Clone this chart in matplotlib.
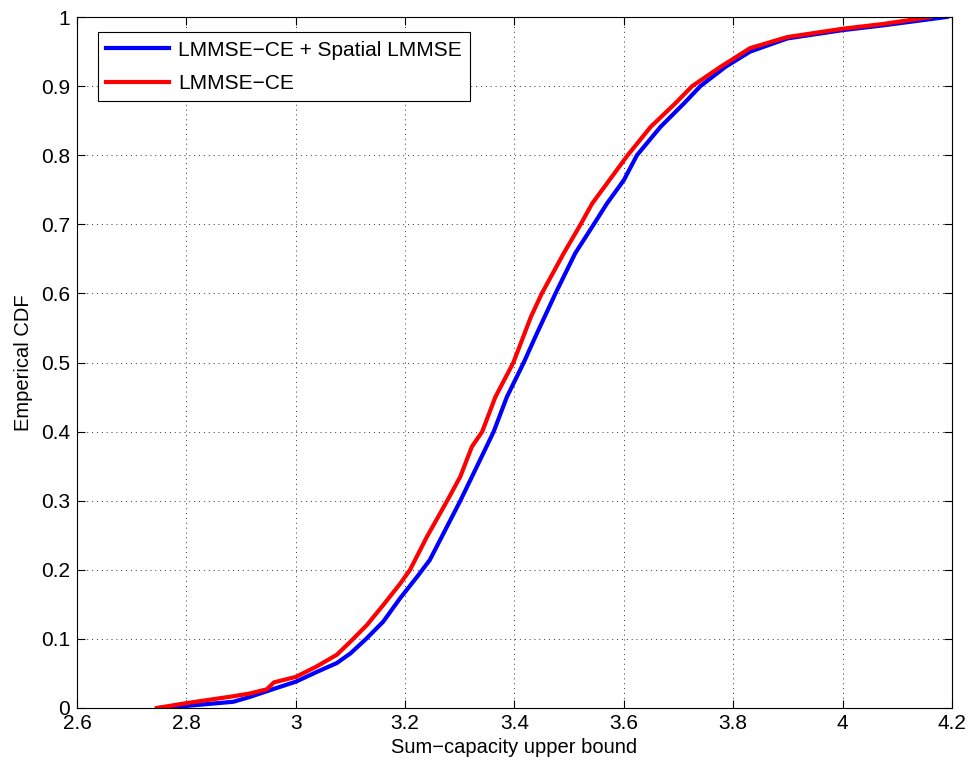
import matplotlib
matplotlib.use("Agg")
import matplotlib.pyplot as plt

plt.rcParams['font.family'] = ['Liberation Sans', 'DejaVu Sans']

blue_x = [2.75, 2.8, 2.886, 2.916, 2.965, 3.0, 3.038, 3.075, 3.1, 3.13, 3.16, 3.191,
          3.222, 3.245, 3.301, 3.334, 3.362, 3.386, 3.417, 3.438, 3.475, 3.511, 3.545,
          3.569, 3.60, 3.624, 3.667, 3.71, 3.74, 3.786, 3.831, 3.899, 4.0, 4.075, 4.19]
blue_y = [0.0, 0.003, 0.009, 0.016, 0.029, 0.038, 0.052, 0.065, 0.079, 0.101, 0.125, 0.159,
          0.19, 0.214, 0.3, 0.354, 0.4, 0.45, 0.5, 0.537, 0.6, 0.658, 0.7,
          0.73, 0.764, 0.8, 0.841, 0.875, 0.9, 0.928, 0.95, 0.969, 0.981, 0.988, 1.0]
red_x = [2.746, 2.8, 2.886, 2.916, 2.947, 2.96, 3.0, 3.038, 3.075, 3.1, 3.13, 3.16, 3.191,
         3.209, 3.24, 3.277, 3.301, 3.322, 3.341, 3.365, 3.398, 3.43, 3.45, 3.49, 3.521,
         3.542, 3.607, 3.649, 3.694, 3.725, 3.777, 3.831, 3.899, 4.0, 4.075, 4.16]
red_y = [0.0, 0.007, 0.017, 0.021, 0.027, 0.037, 0.045, 0.06, 0.077, 0.096, 0.12, 0.149, 0.18,
         0.2, 0.248, 0.3, 0.335, 0.378, 0.4, 0.45, 0.5, 0.566, 0.6, 0.658, 0.7,
         0.73, 0.8, 0.841, 0.875, 0.9, 0.928, 0.955, 0.971, 0.983, 0.99, 1.0]

series_labels = ["LMMSE\u2212CE + Spatial LMMSE", "LMMSE\u2212CE"]
x_ticks = [2.6, 2.8, 3.0, 3.2, 3.4, 3.6, 3.8, 4.0, 4.2]
x_tick_labels = ["2.6", "2.8", "3", "3.2", "3.4", "3.6", "3.8", "4", "4.2"]
y_ticks = [0, 0.1, 0.2, 0.3, 0.4, 0.5, 0.6, 0.7, 0.8, 0.9, 1.0]
y_tick_labels = ["0", "0.1", "0.2", "0.3", "0.4", "0.5", "0.6", "0.7", "0.8", "0.9", "1"]

fig = plt.figure(figsize=(9.7, 7.63), dpi=100)
ax = fig.add_axes([0.0794, 0.0721, 0.902, 0.9056])

ax.plot(blue_x, blue_y, color='#0000ff', lw=3, label=series_labels[0])
ax.plot(red_x, red_y, color='#ff0000', lw=3, label=series_labels[1])

ax.set_xlim(2.6, 4.2)
ax.set_ylim(0, 1)
ax.set_xticks(x_ticks)
ax.set_xticklabels(x_tick_labels)
ax.set_yticks(y_ticks)
ax.set_yticklabels(y_tick_labels)
ax.tick_params(direction='in', top=True, right=True, labelsize=15, length=6, width=0.8)
ax.tick_params(axis='x', pad=4)
ax.tick_params(axis='y', pad=5)
ax.grid(True, linestyle=(0, (1, 4)), color='#333333', linewidth=0.7)
for s in ax.spines.values():
    s.set_linewidth(0.8)

ax.set_xlabel("Sum\u2212capacity upper bound", fontsize=14.5, labelpad=4)
ax.set_ylabel("Emperical CDF", fontsize=14.5, labelpad=6)

leg = ax.legend(loc='upper left', bbox_to_anchor=(0.024, 0.978), fontsize=15,
                fancybox=False, edgecolor='black', framealpha=1, handlelength=3.0,
                handletextpad=0.45, borderpad=0.4, labelspacing=0.7, borderaxespad=0)
leg.get_frame().set_linewidth(0.8)

fig.savefig("out.png", dpi=100)
